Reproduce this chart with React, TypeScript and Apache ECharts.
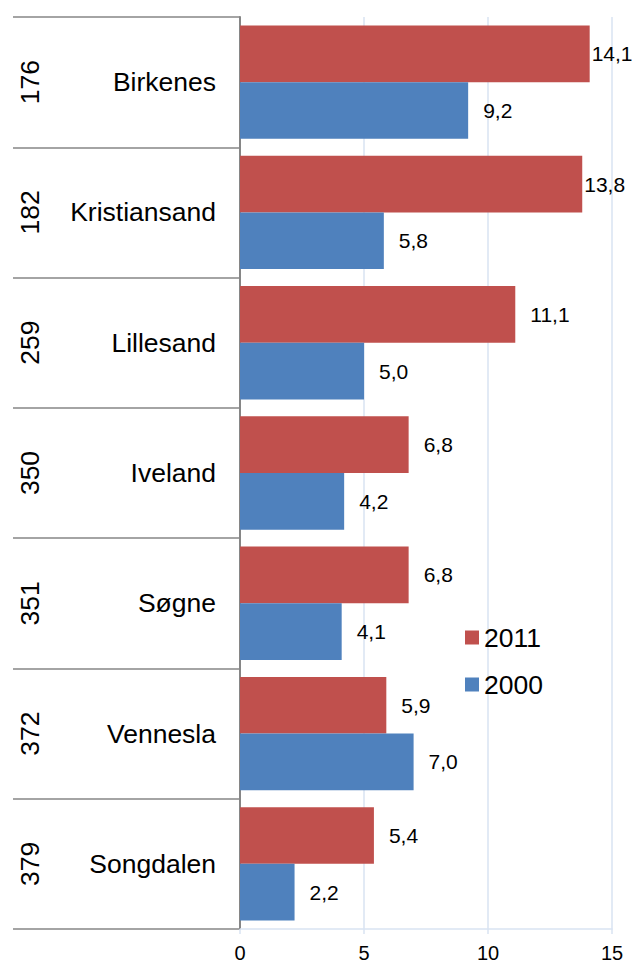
import React, { useEffect, useRef } from "react";
import * as echarts from "echarts";

const municipalities = ["Birkenes", "Kristiansand", "Lillesand", "Iveland", "Søgne", "Vennesla", "Songdalen"];
const ranks = ["176", "182", "259", "350", "351", "372", "379"];
const values2011 = [14.1, 13.8, 11.1, 6.8, 6.8, 5.9, 5.4];
const values2000 = [9.2, 5.8, 5.0, 4.2, 4.1, 7.0, 2.2];
const xTicks = [0, 5, 10, 15];

const RED = "#C0504D";
const BLUE = "#4F81BD";
const GRID = "#D9E3F2";
const AXIS_GRAY = "#868686";
const FONT = "'Liberation Sans', Arial, sans-serif";

const fmt = (v: number) => v.toFixed(1).replace(".", ",");

export default function App() {
  const ref = useRef<HTMLDivElement>(null);
  useEffect(() => {
    if (!ref.current) return;
    const chart = echarts.init(ref.current, undefined, { renderer: "svg" });
    const mk = (vals: number[]) =>
      vals.map((v) => ({
        value: v,
        label: { distance: v > 13.5 ? 2 : 15 },
      }));
    const labelCfg = {
      show: true,
      position: "right",
      fontSize: 21,
      color: "#000",
      fontFamily: FONT,
      formatter: (p: any) => fmt(p.value),
    };
    chart.setOption({
      animation: false,
      backgroundColor: "#ffffff",
      textStyle: { fontFamily: FONT },
      grid: { left: 240, right: 20, top: 17, bottom: 34, containLabel: false },
      legend: {
        data: ["2011", "2000"],
        orient: "vertical",
        left: 465,
        top: 624,
        padding: 0,
        itemWidth: 14,
        itemHeight: 14,
        itemGap: 20,
        icon: "rect",
        textStyle: { fontSize: 26.5, color: "#000", fontFamily: FONT },
      },
      xAxis: {
        type: "value",
        min: xTicks[0],
        max: xTicks[xTicks.length - 1],
        interval: 5,
        axisLine: { show: true, lineStyle: { color: GRID, width: 1.5 } },
        axisTick: { show: true, length: 5, lineStyle: { color: GRID, width: 1.5 } },
        splitLine: { show: true, lineStyle: { color: GRID, width: 1.5 } },
        axisLabel: { fontSize: 20, color: "#000", margin: 14, fontFamily: FONT },
      },
      yAxis: [
        {
          type: "category",
          data: municipalities,
          inverse: true,
          position: "left",
          axisLine: { show: true, lineStyle: { color: AXIS_GRAY, width: 2 } },
          axisTick: { show: true, length: 227, lineStyle: { color: AXIS_GRAY, width: 1.5 } },
          axisLabel: { fontSize: 26.5, color: "#000", margin: 24, fontFamily: FONT },
          splitLine: { show: false },
        },
        {
          type: "category",
          data: ranks,
          inverse: true,
          position: "left",
          axisLine: { show: false },
          axisTick: { show: false },
          axisLabel: {
            fontSize: 26.5,
            color: "#000",
            rotate: 90,
            align: "center",
            verticalAlign: "middle",
            margin: 210,
            fontFamily: FONT,
          },
          splitLine: { show: false },
        },
      ],
      series: [
        {
          name: "2011",
          type: "bar",
          yAxisIndex: 0,
          data: mk(values2011),
          itemStyle: { color: RED },
          barGap: "0%",
          barCategoryGap: "13%",
          label: labelCfg,
        },
        {
          name: "2000",
          type: "bar",
          yAxisIndex: 0,
          data: mk(values2000),
          itemStyle: { color: BLUE },
          barGap: "0%",
          barCategoryGap: "13%",
          label: labelCfg,
        },
      ],
    });
    return () => chart.dispose();
  }, []);
  return (
    <div
      ref={ref}
      style={{ position: "fixed", left: 0, top: 0, width: 632, height: 963 }}
    />
  );
}
